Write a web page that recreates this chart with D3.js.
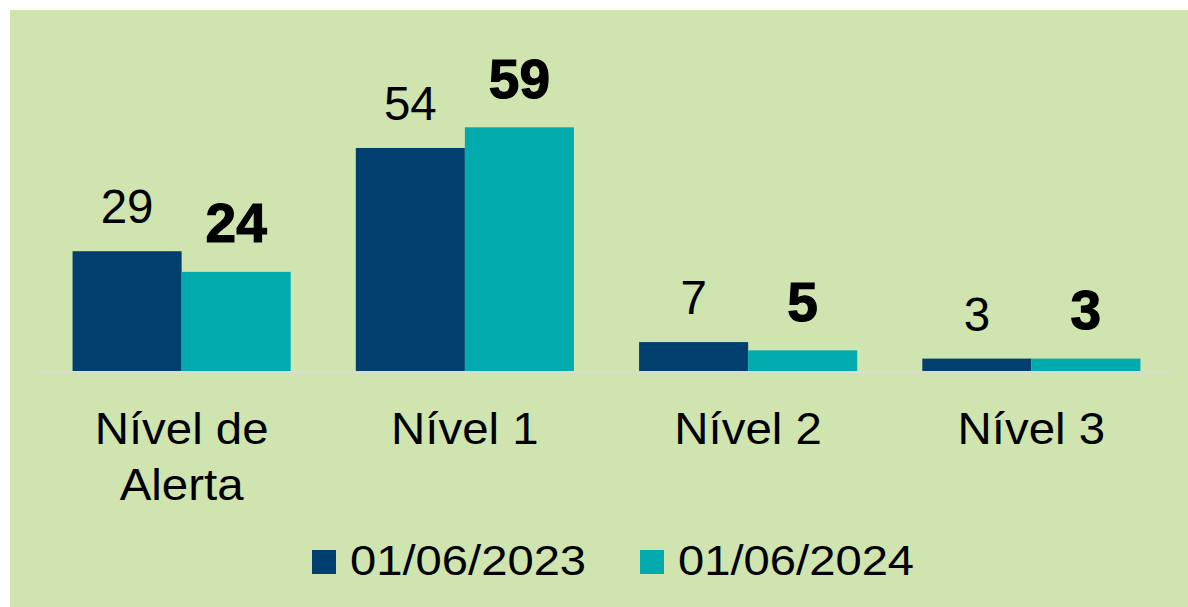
<!DOCTYPE html>
<html>
<head>
<meta charset="utf-8">
<script src="https://cdn.jsdelivr.net/npm/d3@7"></script>
<style>
  html, body { margin: 0; padding: 0; background: #ffffff; }
  svg { display: block; }
  text { font-family: "Liberation Sans", Arial, sans-serif; }
</style>
</head>
<body>
<svg id="chart" width="1188" height="607"></svg>
<script>
const categories = [["Nível de", "Alerta"], ["Nível 1"], ["Nível 2"], ["Nível 3"]];
const categoryKeys = ["Nível de Alerta", "Nível 1", "Nível 2", "Nível 3"];
const seriesNames = ["01/06/2023", "01/06/2024"];
const values2023 = [29, 54, 7, 3];
const values2024 = [24, 59, 5, 3];
const seriesValues = [values2023, values2024];
const seriesColors = ["#003f6e", "#00aaad"];
const seriesBold = [false, true];

const svg = d3.select("#chart");
svg.append("rect").attr("x", 10).attr("y", 10).attr("width", 1178).attr("height", 597).attr("fill", "#cfe4ae");

const x0 = d3.scaleBand().domain(categoryKeys).range([40, 1173]).paddingInner(0.23).paddingOuter(0.115);
const x1 = d3.scaleBand().domain(seriesNames).range([0, x0.bandwidth()]);
const y = d3.scaleLinear().domain([0, 60]).range([371, 371 - 60 * 4.13]);

const data = [];
categoryKeys.forEach((c, i) => {
  seriesNames.forEach((s, j) => {
    data.push({cat: c, series: s, value: seriesValues[j][i], color: seriesColors[j], bold: seriesBold[j]});
  });
});

svg.append("g").selectAll("rect").data(data).join("rect")
  .attr("x", d => x0(d.cat) + x1(d.series))
  .attr("y", d => y(d.value))
  .attr("width", x1.bandwidth())
  .attr("height", d => y(0) - y(d.value))
  .attr("fill", d => d.color);

// baseline
svg.append("rect").attr("x", x0.range()[0]).attr("y", y(0)).attr("width", x0.range()[1] - x0.range()[0]).attr("height", 2).attr("fill", "#dadcd4");

// value labels
svg.append("g").selectAll("text").data(data).join("text")
  .attr("x", d => x0(d.cat) + x1(d.series) + x1.bandwidth() / 2)
  .attr("y", d => y(d.value) - (d.bold ? 29.5 : 28))
  .attr("text-anchor", "middle")
  .attr("font-size", d => d.bold ? 55 : 47.5)
  .attr("font-weight", d => d.bold ? "bold" : "normal")
  .attr("fill", "#000")
  .attr("stroke", d => d.bold ? "#000" : "none")
  .attr("stroke-width", d => d.bold ? 1.2 : 0)
  .text(d => d.value);

function stretch(sel, f) {
  sel.each(function() {
    const w = this.getComputedTextLength();
    d3.select(this).attr("textLength", w * f).attr("lengthAdjust", "spacingAndGlyphs");
  });
}

// category labels
const catG = svg.append("g");
categoryKeys.forEach((c, i) => {
  categories[i].forEach((line, k) => {
    const t = catG.append("text")
      .attr("x", x0(c) + x0.bandwidth() / 2)
      .attr("y", 444 + k * 56)
      .attr("text-anchor", "middle")
      .attr("font-size", 43.5)
      .attr("fill", "#000")
      .text(line);
    stretch(t, 1.09);
  });
});

// legend
const legendX = [312, 640];
const lg = svg.append("g");
seriesNames.forEach((s, j) => {
  lg.append("rect").attr("x", legendX[j]).attr("y", 550).attr("width", 24).attr("height", 24).attr("fill", seriesColors[j]);
  const t = lg.append("text").attr("x", legendX[j] + 38).attr("y", 575)
    .attr("font-size", 42.5).attr("fill", "#000").text(s);
  stretch(t, 1.11);
});
</script>
</body>
</html>
